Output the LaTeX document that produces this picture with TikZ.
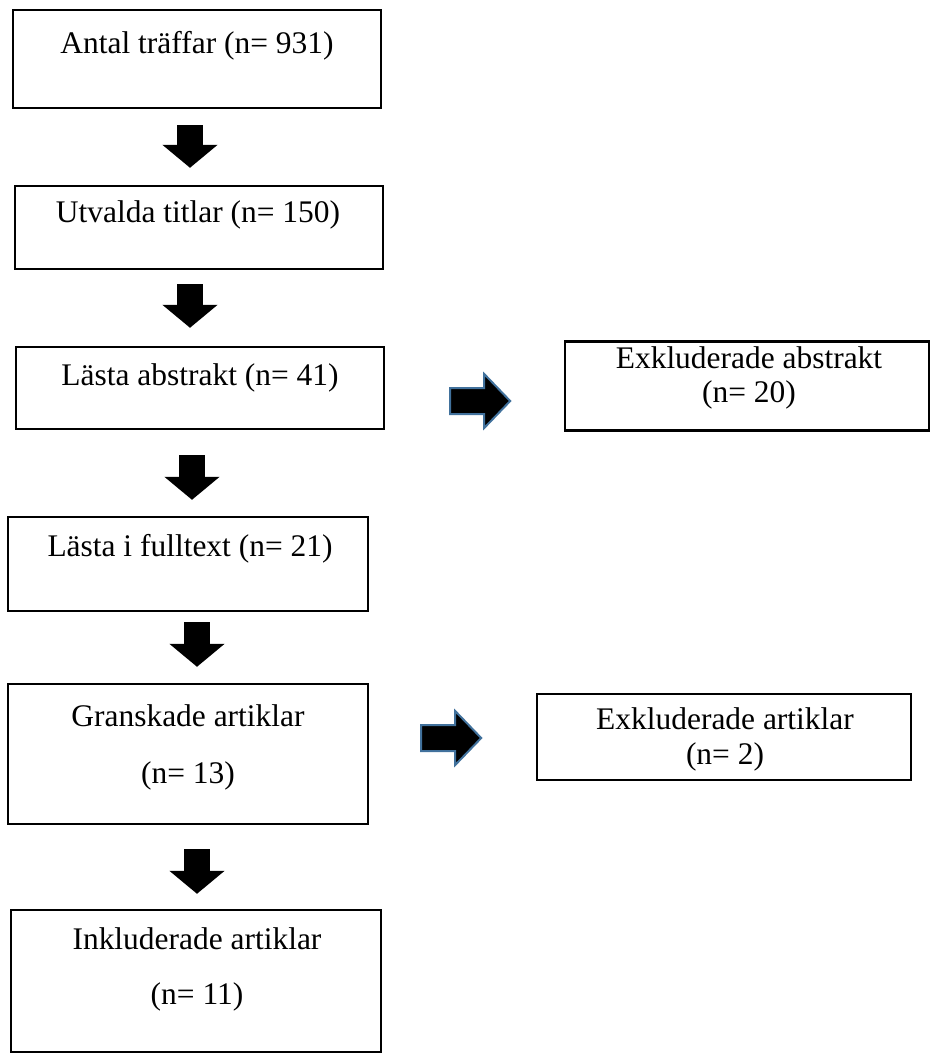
\documentclass[tikz,border=0pt]{standalone}
\usepackage{fontspec}
\setmainfont{Liberation Serif}
\usepackage{tikz}
\usetikzlibrary{calc,arrows.meta}
\definecolor{arrowblue}{RGB}{65,113,156}

\begin{document}
\begin{tikzpicture}[x=0.02cm,y=0.02cm,
	box/.style={draw,line width=0.048cm,inner sep=0},
	txt/.style={anchor=base,inner sep=0,font=\fontsize{17.9}{21}\selectfont},
	dblock/.style={line width=0.52cm,-{Triangle[length=0.46cm,width=1.08cm]}},
	rblock/.style={fill=black,draw=arrowblue,line width=0.04cm,line join=miter}]
	
	\def\px{0.02cm}
	\useasboundingbox (0,0) rectangle (931,-1059);
	
	% the boxes, left column
	\node[box,minimum width=368*\px,minimum height=98*\px] (b1) at (197,-59) {};
	\node[box,minimum width=368*\px,minimum height=83*\px] (b2) at (199,-227.5) {};
	\node[box,minimum width=368*\px,minimum height=82*\px] (b3) at (200,-388) {};
	\node[box,minimum width=360*\px,minimum height=94*\px] (b5) at (188,-564) {};
	\node[box,minimum width=360*\px,minimum height=140*\px] (b6) at (188,-754) {};
	\node[box,minimum width=370*\px,minimum height=142*\px] (b8) at (196,-981) {};
	
	% the boxes, right column
	\node[box,minimum width=364*\px,minimum height=89*\px] (b4) at (747,-386) {};
	\node[box,minimum width=374*\px,minimum height=86*\px] (b7) at (724,-737) {};
	
	% the texts
	\node[txt] (t1) at (197,-53) {Antal träffar (n= 931)};
	\node[txt] (t2) at (198,-222) {Utvalda titlar (n= 150)};
	\node[txt] (t3) at (200,-385) {Lästa abstrakt (n= 41)};
	\node[txt] (t4a) at (749,-368) {Exkluderade abstrakt};
	\node[txt] (t4b) at (749,-402) {(n= 20)};
	\node[txt] (t5) at (190,-556) {Lästa i fulltext (n= 21)};
	\node[txt] (t6a) at (188,-726) {Granskade artiklar};
	\node[txt] (t6b) at (188,-783) {(n= 13)};
	\node[txt] (t7a) at (725,-729) {Exkluderade artiklar};
	\node[txt] (t7b) at (725,-764) {(n= 2)};
	\node[txt] (t8a) at (197,-949) {Inkluderade artiklar};
	\node[txt] (t8b) at (197,-1004) {(n= 11)};
	
	% the block arrows down
	\draw[dblock] ($(b1.south)+(-7,-16)$) -- ($(b2.north)+(-9,17)$);
	\draw[dblock] ($(b2.south)+(-9,-14)$) -- ($(b3.north)+(-10,18)$);
	\draw[dblock] ($(b3.south)+(-8,-25)$) -- ($(b5.north)+(4,16)$);
	\draw[dblock] ($(b5.south)+(9,-10)$) -- ($(b6.north)+(9,16)$);
	\draw[dblock] ($(b6.south)+(9,-24)$) -- ($(b8.north)+(1,15)$);
	
	% the block arrows to the right
	\coordinate (r1) at ($(b3.east)+(95,-13)$);
	\coordinate (r2) at ($(b6.east)+(82,16)$);
	\foreach \r in {r1,r2}
	\draw[rblock,shift={(\r)}] (-30,-13) -- (4,-13) -- (4,-27) -- (30,0) -- (4,27) -- (4,13) -- (-30,13) -- cycle;
	
\end{tikzpicture}
\end{document}
